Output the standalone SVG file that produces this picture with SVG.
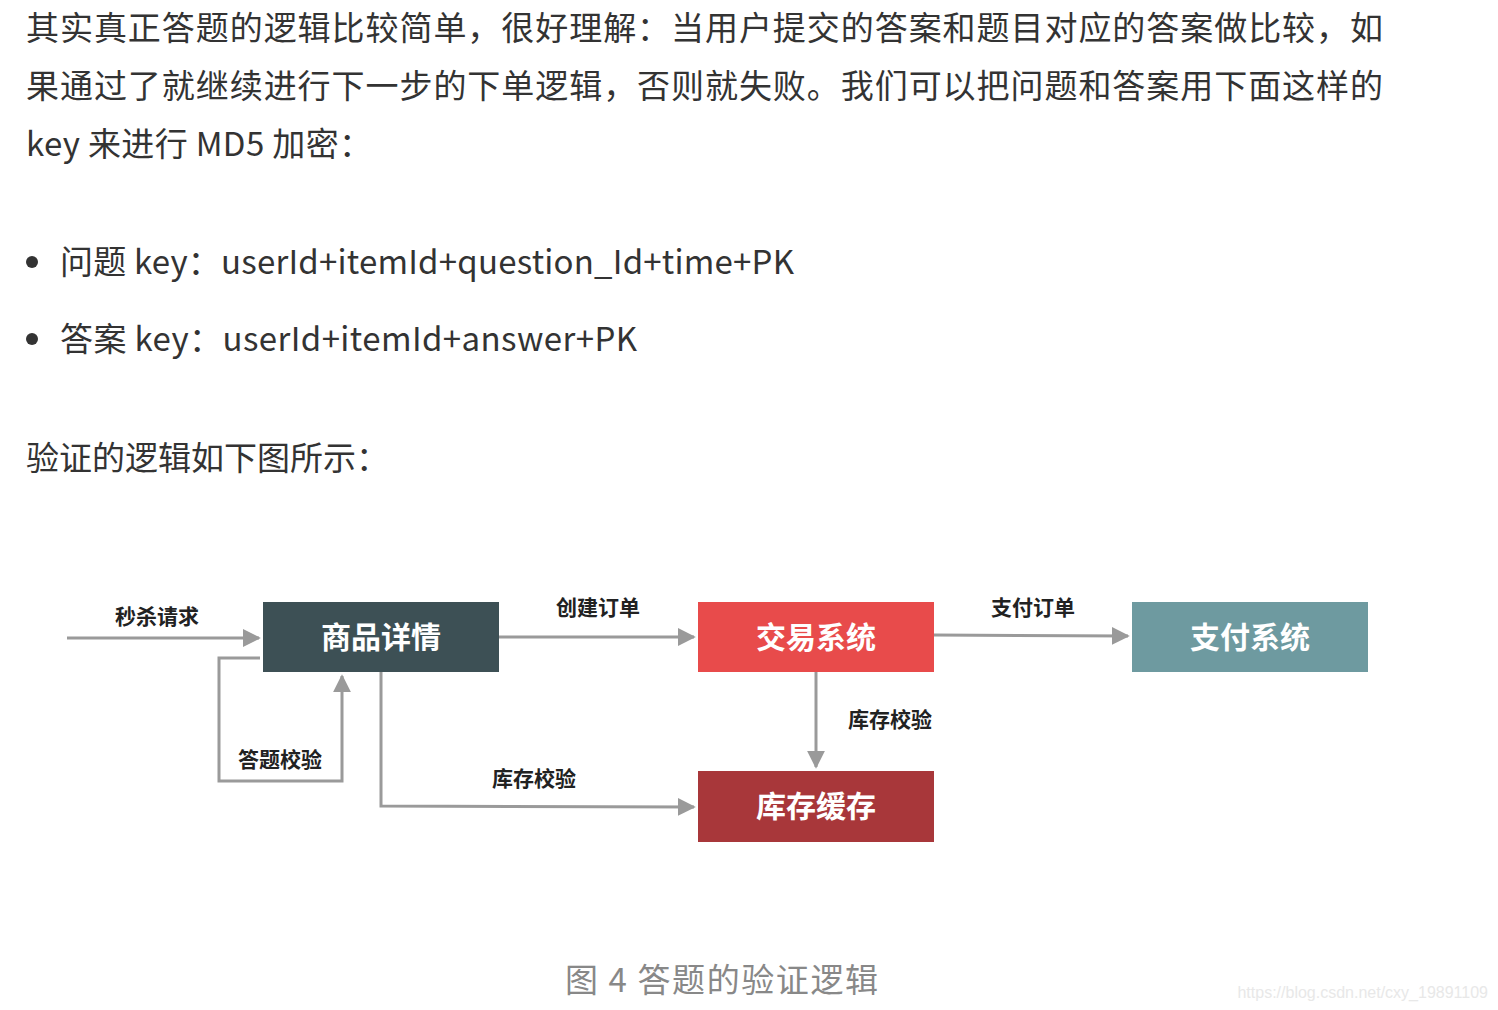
<svg xmlns="http://www.w3.org/2000/svg" width="1498" height="1010" viewBox="0 0 1498 1010">
<style>
.b{font-family:"Noto Sans CJK SC","Liberation Sans",sans-serif;font-size:33px;fill:#333}
.n{font-family:"Noto Sans CJK SC",sans-serif;font-size:30px;font-weight:bold;fill:#fff;text-anchor:middle}
.l{font-family:"Noto Sans CJK SC",sans-serif;font-size:21px;font-weight:bold;fill:#222;text-anchor:middle}
.c{fill:none;stroke:#9a9a9a;stroke-width:3}
</style>
<defs><marker id="a" viewBox="0 0 10 10" refX="9" refY="5" markerWidth="6" markerHeight="6" markerUnits="strokeWidth" orient="auto"><path d="M0,0L10,5L0,10z" fill="#9a9a9a"/></marker></defs>
<rect width="1498" height="1010" fill="#fff"/>
<text class="b" x="26" y="40" textLength="1357">其实真正答题的逻辑比较简单，很好理解：当用户提交的答案和题目对应的答案做比较，如</text>
<text class="b" x="26" y="98" textLength="1357">果通过了就继续进行下一步的下单逻辑，否则就失败。我们可以把问题和答案用下面这样的</text>
<text class="b" x="26" y="156" textLength="346">key 来进行 MD5 加密：</text>
<circle cx="32" cy="262" r="6" fill="#333"/>
<text class="b" x="60" y="274" textLength="734">问题 key：userId+itemId+question_Id+time+PK</text>
<circle cx="32" cy="339" r="6" fill="#333"/>
<text class="b" x="60" y="351" textLength="577">答案 key：userId+itemId+answer+PK</text>
<text class="b" x="26" y="470">验证的逻辑如下图所示：</text>
<g id="connectors">
<path class="c" d="M67,638H259" marker-end="url(#a)"/>
<path class="c" d="M499,637H694" marker-end="url(#a)"/>
<path class="c" d="M934,635L1128,636" marker-end="url(#a)"/>
<path class="c" d="M816,672V767" marker-end="url(#a)"/>
<path class="c" d="M260,658H219V781H342V676" marker-end="url(#a)"/>
<path class="c" d="M381,672V806L694,807" marker-end="url(#a)"/>
<text class="l" x="157" y="624">秒杀请求</text>
<text class="l" x="598" y="615">创建订单</text>
<text class="l" x="1033" y="615">支付订单</text>
<text class="l" x="890" y="727">库存校验</text>
<text class="l" x="280" y="767">答题校验</text>
<text class="l" x="534" y="786">库存校验</text>
</g>
<g id="n1"><rect x="263" y="602" width="236" height="70" fill="#3d5055"/><text class="n" x="381" y="648">商品详情</text></g>
<g id="n2"><rect x="698" y="602" width="236" height="70" fill="#e84b4b"/><text class="n" x="816" y="648">交易系统</text></g>
<g id="n3"><rect x="1132" y="602" width="236" height="70" fill="#6e9aa0"/><text class="n" x="1250" y="648">支付系统</text></g>
<g id="n4"><rect x="698" y="771" width="236" height="71" fill="#a8373a"/><text class="n" x="816" y="817">库存缓存</text></g>
<text x="565" y="992" textLength="313" font-family="Noto Sans CJK SC,sans-serif" font-size="33" fill="#888">图 4 答题的验证逻辑</text>
<text x="1488" y="998" text-anchor="end" font-family="Liberation Sans,sans-serif" font-size="16" fill="#e8e8e8">https://blog.csdn.net/cxy_19891109</text>
</svg>
